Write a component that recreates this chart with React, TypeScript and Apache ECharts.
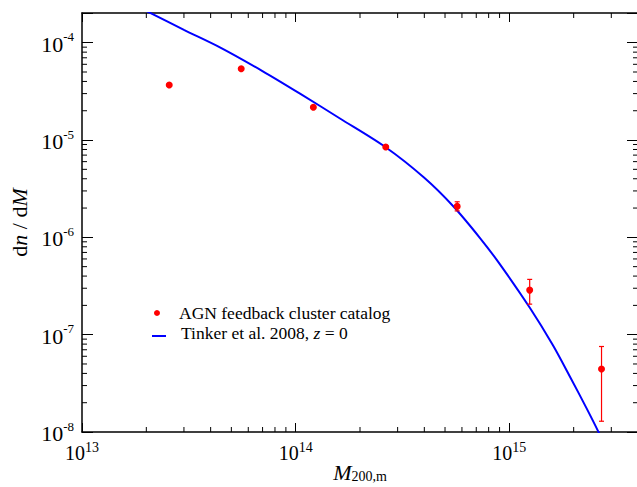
import React, { useEffect, useRef } from 'react';
import * as echarts from 'echarts';

// Catalog points (M200m, dn/dM) with error bar ends
const massBins = [2.56e13, 5.56e13, 1.21e14, 2.64e14, 5.7e14, 1.245e15, 2.7e15];
const catalogDnDm = [3.67e-5, 5.4e-5, 2.17e-5, 8.47e-6, 2.08e-6, 2.87e-7, 4.43e-8];
const catalogLow = [3.6e-5, 5.3e-5, 2.12e-5, 8.25e-6, 1.87e-6, 2.06e-7, 1.29e-8];
const catalogHigh = [3.75e-5, 5.5e-5, 2.22e-5, 8.7e-6, 2.32e-6, 3.7e-7, 7.56e-8];

// Tinker et al. 2008 curve
const tinkerMass = [2.0e13, 3.0e13, 4.42e13, 6.99e13, 1.048e14, 1.612e14, 2.627e14, 3.986e14, 5.45e14, 7.29e14, 9.04e14, 1.249e15, 1.597e15, 1.922e15, 2.296e15, 2.608e15, 2.77e15];
const tinkerDnDm = [2.12e-4, 1.357e-4, 8.97e-5, 5.12e-5, 3.0e-5, 1.664e-5, 8.48e-6, 4.12e-6, 2.1e-6, 9.84e-7, 5.28e-7, 1.88e-7, 7.83e-8, 3.7e-8, 1.76e-8, 1.01e-8, 7.5e-9];

const xMin = 1e13;
const xMax = 4e15;
const yMin = 1e-8;
const yMax = 2.02e-4;
const xDecades = [13, 14, 15];
const yDecades = [-8, -7, -6, -5, -4];

const catalogName = 'AGN feedback cluster catalog';
const tinkerName = 'Tinker et al. 2008, z = 0';

const FONT = '"Liberation Serif", "Times New Roman", serif';

function powLabel(v: number) {
  const e = Math.log10(v);
  const r = Math.round(e);
  if (Math.abs(e - r) > 1e-6) return '';
  return `{b|10}{s|${r}}`;
}

function buildMinorTicks() {
  const data: number[][] = [];
  for (const d of xDecades) {
    for (let m = 2; m <= 9; m++) {
      const v = m * Math.pow(10, d);
      if (v < xMax * 0.999) data.push([v, yMin, 0]);
    }
  }
  for (const d of yDecades) {
    for (let m = 2; m <= 9; m++) {
      const v = m * Math.pow(10, d);
      if (v < yMax * 0.99) data.push([xMin, v, 1]);
    }
  }
  return data;
}

export default function App() {
  const ref = useRef<HTMLDivElement>(null);
  useEffect(() => {
    const chart = echarts.init(ref.current!, null, { renderer: 'svg' });
    const axisLineStyle = { color: '#000', width: 1.5 };
    const tickStyle = { color: '#000', width: 1 };
    const xRich = {
      b: { fontFamily: FONT, fontSize: 20, color: '#000', padding: [3, 0, 0, 0] },
      s: { fontFamily: FONT, fontSize: 14, color: '#000', verticalAlign: 'top' },
    };
    const yRich = {
      b: { fontFamily: FONT, fontSize: 22, color: '#000', padding: [3, 0, 0, 0] },
      s: { fontFamily: FONT, fontSize: 13, color: '#000', verticalAlign: 'top' },
    };
    const option: any = {
      animation: false,
      backgroundColor: '#fff',
      grid: { left: 82, top: 13, width: 556, height: 419, containLabel: false, outerBoundsMode: 'none' },
      xAxis: [
        {
          type: 'log', logBase: 10, min: xMin, max: xMax, position: 'bottom',
          axisLine: { lineStyle: axisLineStyle },
          axisTick: { inside: true, length: 9, lineStyle: tickStyle },
          splitLine: { show: false },
          axisLabel: { formatter: powLabel, margin: 8, rich: xRich, showMinLabel: true, showMaxLabel: true },
          name: '{i|M}{s|200,m}',
          nameLocation: 'middle',
          nameGap: 29,
          nameMoveOverlap: false,
          nameTextStyle: {
            rich: {
              i: { fontFamily: FONT, fontSize: 22, lineHeight: 22, fontStyle: 'italic', color: '#000' },
              s: { fontFamily: FONT, fontSize: 14, lineHeight: 14, color: '#000', verticalAlign: 'bottom', padding: [12, 0, 0, 0] },
            },
          },
        },
        {
          type: 'log', logBase: 10, min: xMin, max: xMax, position: 'top',
          axisLine: { lineStyle: axisLineStyle },
          axisTick: { inside: true, length: 9, lineStyle: tickStyle },
          splitLine: { show: false },
          axisLabel: { show: false },
        },
      ],
      yAxis: [
        {
          type: 'log', logBase: 10, min: yMin, max: yMax, position: 'left',
          axisLine: { lineStyle: axisLineStyle },
          axisTick: { inside: true, length: 11, lineStyle: tickStyle },
          splitLine: { show: false },
          axisLabel: { formatter: powLabel, margin: 8, align: 'right', rich: yRich },
          name: '{r|d}{i|n}{r| / d}{i|M}',
          nameLocation: 'middle',
          nameRotate: 90,
          nameGap: 50,
          nameTextStyle: {
            rich: {
              r: { fontFamily: FONT, fontSize: 22, color: '#000' },
              i: { fontFamily: FONT, fontSize: 22, fontStyle: 'italic', color: '#000' },
            },
          },
        },
        {
          type: 'log', logBase: 10, min: yMin, max: yMax, position: 'right',
          axisLine: { lineStyle: axisLineStyle },
          axisTick: { inside: true, length: 11, lineStyle: tickStyle },
          splitLine: { show: false },
          axisLabel: { show: false },
        },
      ],
      legend: [
        {
          data: [{ name: catalogName, icon: 'circle' }],
          left: 154, top: 304, padding: 0,
          itemWidth: 6, itemHeight: 6,
          selectedMode: false,
          formatter: (n: string) => `{r|${n}}`,
          textStyle: {
            fontFamily: FONT, fontSize: 17.5, color: '#000',
            padding: [0, 0, 0, 14],
            rich: { r: { fontFamily: FONT, fontSize: 17.5, lineHeight: 15, color: '#000' } },
          },
        },
        {
          data: [{ name: tinkerName, icon: 'path://M0,8.5 L14,8.5 L14,10.5 L0,10.5 Z M0,0 L0.01,0 L0.01,0.01 Z M0,12 L0.01,12 L0.01,11.99 Z' }],
          left: 152, top: 323.5, padding: 0,
          itemWidth: 14, itemHeight: 12,
          symbolKeepAspect: false,
          selectedMode: false,
          formatter: () => '{r|Tinker et al. 2008, }{i|z}{r| = 0}',
          textStyle: {
            fontFamily: FONT, fontSize: 17.5, color: '#000',
            padding: [0, 0, 0, 10],
            rich: {
              r: { fontFamily: FONT, fontSize: 17.5, lineHeight: 15, color: '#000' },
              i: { fontFamily: FONT, fontSize: 17.5, lineHeight: 15, fontStyle: 'italic', color: '#000' },
            },
          },
        },
      ],
      series: [
        {
          type: 'custom',
          name: 'minorTicks',
          xAxisIndex: 0, yAxisIndex: 0,
          silent: true,
          clip: false,
          data: buildMinorTicks(),
          encode: { x: 0, y: 1 },
          renderItem: (params: any, api: any) => {
            const k = api.value(2);
            const style = { stroke: '#000', lineWidth: 1 };
            if (k === 0) {
              const x = api.value(0);
              const pb = api.coord([x, yMin]);
              const pt = api.coord([x, yMax]);
              return {
                type: 'group',
                children: [
                  { type: 'line', shape: { x1: pb[0], y1: pb[1], x2: pb[0], y2: pb[1] - 5 }, style },
                  { type: 'line', shape: { x1: pt[0], y1: pt[1], x2: pt[0], y2: pt[1] + 5 }, style },
                ],
              };
            }
            const y = api.value(1);
            const pl = api.coord([xMin, y]);
            const pr = api.coord([xMax, y]);
            return {
              type: 'group',
              children: [
                { type: 'line', shape: { x1: pl[0], y1: pl[1], x2: pl[0] + 5, y2: pl[1] }, style },
                { type: 'line', shape: { x1: pr[0], y1: pr[1], x2: pr[0] - 5, y2: pr[1] }, style },
              ],
            };
          },
          z: 1,
        },
        {
          type: 'line',
          name: tinkerName,
          data: tinkerMass.map((m, i) => [m, tinkerDnDm[i]]),
          showSymbol: false,
          symbol: 'none',
          smooth: 0.3,
          color: '#0000ff',
          itemStyle: { color: '#0000ff' },
          lineStyle: { color: '#0000ff', width: 2 },
          clip: true,
          z: 2,
        },
        {
          type: 'custom',
          name: 'errors',
          silent: true,
          data: massBins.map((m, i) => [m, catalogLow[i], catalogHigh[i]]),
          encode: { x: 0, y: [1, 2] },
          renderItem: (params: any, api: any) => {
            const x = api.value(0);
            const lo = api.coord([x, api.value(1)]);
            const hi = api.coord([x, api.value(2)]);
            const style = { stroke: '#ff0000', lineWidth: 1.2 };
            const hw = 2.5;
            return {
              type: 'group',
              children: [
                { type: 'line', shape: { x1: lo[0], y1: lo[1], x2: hi[0], y2: hi[1] }, style },
                { type: 'line', shape: { x1: lo[0] - hw, y1: lo[1], x2: lo[0] + hw, y2: lo[1] }, style },
                { type: 'line', shape: { x1: hi[0] - hw, y1: hi[1], x2: hi[0] + hw, y2: hi[1] }, style },
              ],
            };
          },
          z: 3,
        },
        {
          type: 'scatter',
          name: catalogName,
          data: massBins.map((m, i) => [m, catalogDnDm[i]]),
          symbol: 'circle',
          symbolSize: 7,
          itemStyle: { color: '#ff0000', opacity: 1 },
          z: 4,
        },
      ],
    };
    chart.setOption(option);
    return () => chart.dispose();
  }, []);
  return (
    <div
      ref={ref}
      style={{ position: 'absolute', left: 0, top: 0, width: 637, height: 487, background: '#fff' }}
    />
  );
}
